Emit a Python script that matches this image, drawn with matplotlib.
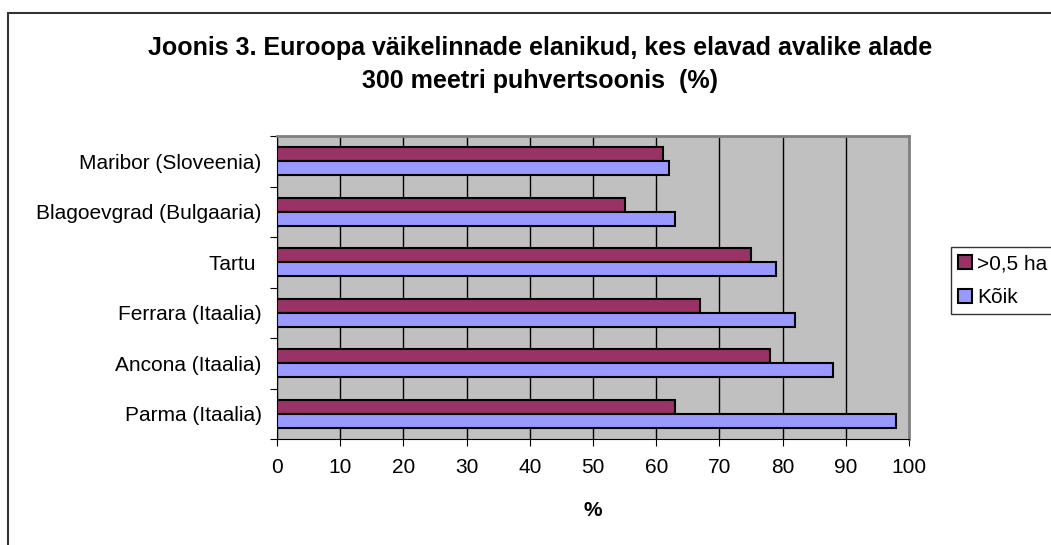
import numpy as np
import matplotlib.pyplot as plt
from matplotlib.patches import Rectangle

cities = ['Parma (Itaalia)', 'Ancona (Itaalia)', 'Ferrara (Itaalia)', 'Tartu ',
          'Blagoevgrad (Bulgaaria)', 'Maribor (Sloveenia)']
over_half_ha = [63, 78, 67, 75, 55, 61]
koik = [98, 88, 82, 79, 63, 62]
series_names = ['>0,5 ha', 'Kõik']
xticks = list(range(0, 101, 10))

plt.rcParams['font.family'] = ['Liberation Sans', 'DejaVu Sans']
W, H = 1051, 545

fig = plt.figure(figsize=(W / 100, H / 100), dpi=100)
# outer chart frame (runs off the right and bottom edge)
fig.patches.append(Rectangle((8 / W, -0.1), 1.2, 1 - 13 / H + 0.1,
                             transform=fig.transFigure, fill=False,
                             ec='#333333', lw=1.5))

ax = fig.add_axes([277 / W, 1 - 439 / H, 632 / W, 303 / H])
ax.set_facecolor('#C0C0C0')
y = np.arange(len(cities))
h = 0.28
ax.barh(y + h / 2, over_half_ha, height=h, color='#993366', edgecolor='black',
        lw=1.5, label=series_names[0], zorder=3)
ax.barh(y - h / 2, koik, height=h, color='#9999FF', edgecolor='black',
        lw=1.5, label=series_names[1], zorder=3)

ax.set_xlim(0, 100)
ax.set_ylim(-0.5, len(cities) - 0.5)
ax.set_xticks(xticks)
ax.set_xticklabels([str(t) for t in xticks], fontsize=15)
ax.xaxis.grid(True, color='black', lw=1)
ax.set_axisbelow(True)
ax.tick_params(axis='x', direction='out', length=5, pad=9)

# category boundaries as ticks, labels in the middle
ax.set_yticks(np.arange(-0.5, len(cities), 1))
ax.set_yticklabels([])
ax.set_yticks(y, minor=True)
ax.set_yticklabels(cities, minor=True, fontsize=15)
ax.tick_params(axis='y', which='major', direction='out', length=5)
ax.tick_params(axis='y', which='minor', length=0, pad=11)

for s in ['top', 'right']:
    ax.spines[s].set_color('#808080')
    ax.spines[s].set_linewidth(2)
ax.spines['left'].set_color('black')
ax.spines['bottom'].set_color('black')

fig.text(593 / W, 1 - 516 / H, '%', ha='center', va='baseline',
         fontsize=15, fontweight='bold')

fig.text(0.514, 1 - 55 / H,
         'Joonis 3. Euroopa väikelinnade elanikud, kes elavad avalike alade',
         ha='center', va='baseline', fontsize=18, fontweight='bold')
fig.text(0.514, 1 - 88 / H, '300 meetri puhvertsoonis  (%)',
         ha='center', va='baseline', fontsize=18, fontweight='bold')

leg = fig.legend(loc='upper left', bbox_to_anchor=(951 / W, 1 - 247 / H),
                 fontsize=15, frameon=True, fancybox=False, edgecolor='black',
                 handlelength=0.65, handleheight=0.65, handletextpad=0.25,
                 borderpad=0.35, labelspacing=0.7, borderaxespad=0)
leg.get_frame().set_linewidth(1)

fig.savefig('out.png', dpi=100)
